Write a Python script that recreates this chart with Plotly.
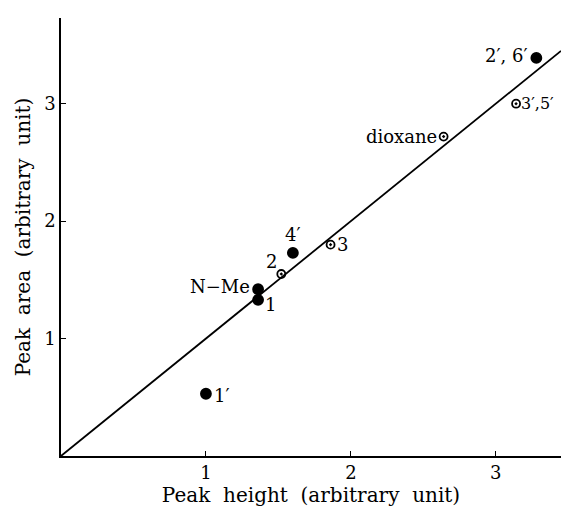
import plotly.graph_objects as go

# Data
labels = ["1′", "N−Me", "1", "2", "4′", "3", "dioxane", "3′,5′", "2′, 6′"]
peak_height = [1.00, 1.36, 1.36, 1.52, 1.60, 1.86, 2.64, 3.14, 3.28]
peak_area = [0.53, 1.42, 1.33, 1.55, 1.73, 1.80, 2.72, 3.00, 3.39]
marker_kind = ["filled", "filled", "filled", "dot", "filled", "dot", "dot", "dot", "filled"]
fit_slope = 1.0
x_ticks = [1, 2, 3]
y_ticks = [1, 2, 3]
x_range = [0, 3.45]
y_range = [0, 3.73]

# label placement (style): xanchor, yanchor, xshift, yshift, size
label_pos = [
    ("left", "middle", 6, -2, 18),
    ("right", "middle", -6, 3, 18),
    ("left", "middle", 5, -5, 18),
    ("right", "bottom", -2, 0, 18),
    ("center", "bottom", 0, 6, 18),
    ("left", "middle", 4, 0, 18),
    ("right", "middle", -5, 0, 18),
    ("left", "middle", 3, 0, 16),
    ("right", "middle", -6, 2, 18),
]

FONT = "DejaVu Serif"

fig = go.Figure()

# fit line y = slope * x across the x range
fig.add_trace(go.Scatter(
    x=x_range, y=[fit_slope * v for v in x_range],
    mode="lines", line=dict(color="black", width=1.8),
    showlegend=False, hoverinfo="skip"))

for kind, sym, size in [("filled", "circle", 10), ("dot", "circle-open-dot", 8)]:
    xs = [x for x, k in zip(peak_height, marker_kind) if k == kind]
    ys = [y for y, k in zip(peak_area, marker_kind) if k == kind]
    fig.add_trace(go.Scatter(
        x=xs, y=ys, mode="markers",
        marker=dict(symbol=sym, size=size, color="black",
                    line=dict(color="black", width=1.8)),
        showlegend=False))

for lab, x, y, (xa, ya, xs, ys, fs) in zip(labels, peak_height, peak_area, label_pos):
    fig.add_annotation(x=x, y=y, text=lab, showarrow=False,
                       xanchor=xa, yanchor=ya, xshift=xs, yshift=ys,
                       font=dict(family=FONT, size=fs, color="black"))

axis_common = dict(showline=True, linecolor="black", linewidth=1.5,
                   ticks="inside", ticklen=5, tickcolor="black",
                   showgrid=False, zeroline=False, automargin=False,
                   tickfont=dict(family=FONT, size=18, color="black"))

fig.update_xaxes(range=x_range, tickvals=x_ticks,
                 title=dict(text="Peak\u00a0 height\u00a0 (arbitrary\u00a0 unit)",
                            font=dict(family=FONT, size=20, color="black"),
                            standoff=4),
                 **axis_common)
fig.update_yaxes(range=y_range, tickvals=y_ticks,
                 title=dict(text="Peak\u00a0 area\u00a0 (arbitrary\u00a0 unit)",
                            font=dict(family=FONT, size=20, color="black"),
                            standoff=8),
                 **axis_common)

fig.update_layout(width=561, height=511,
                  margin=dict(l=61, r=0, t=18, b=55),
                  plot_bgcolor="white", paper_bgcolor="white")

fig.write_html("out.html", config={"displayModeBar": False},
               post_script="document.body.style.margin='0';document.body.style.overflow='hidden';")
